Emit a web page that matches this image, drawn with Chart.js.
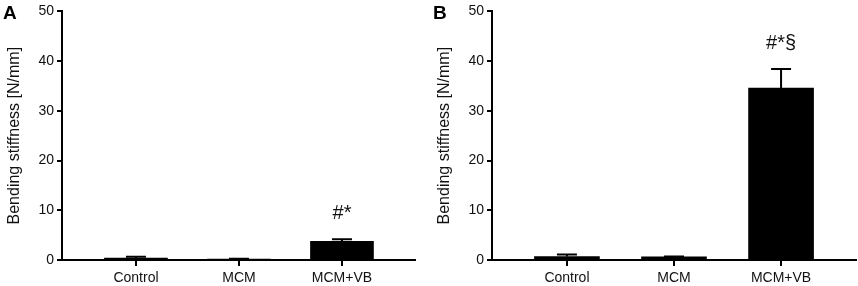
<!DOCTYPE html>
<html>
<head>
<meta charset="utf-8">
<script src="https://cdn.jsdelivr.net/npm/chart.js@4/dist/chart.umd.min.js"></script>
<style>
  html, body { margin: 0; padding: 0; background: #fff; }
  #wrap { position: relative; width: 858px; height: 286px; overflow: hidden; }
  .panel { position: absolute; top: 0; height: 286px; }
</style>
</head>
<body>
<div id="wrap">
  <div class="panel" style="left:0;width:430px"><canvas id="cA" width="430" height="286"></canvas></div>
  <div class="panel" style="left:430px;width:428px"><canvas id="cB" width="428" height="286"></canvas></div>
</div>
<script>
// ---- data ----
const categories = ['Control', 'MCM', 'MCM+VB'];
const yTicks = [0, 10, 20, 30, 40, 50];
const yTitle = 'Bending stiffness [N/mm]';

const meanA = [0.4, 0.05, 3.75];
const sdA   = [0.25, 0.2, 0.4];
const marksA = ['', '', '#*'];

const meanB = [0.7, 0.65, 34.6];
const sdB   = [0.4, 0.05, 3.8];
const marksB = ['', '', '#*§'];

const FONT = "'Liberation Sans', Arial, Helvetica, sans-serif";
const TEXT = '#111';

function makeChart(id, letter, means, sds, marks, barPx, xMin, xMax, padRight) {
  const errPlugin = {
    id: 'errbars' + id,
    afterDatasetsDraw(chart) {
      const ctx = chart.ctx;
      const xs = chart.scales.x, ys = chart.scales.y;
      ctx.save();
      ctx.strokeStyle = '#000';
      ctx.lineWidth = 2;
      means.forEach((m, i) => {
        const x = xs.getPixelForValue(i);
        const yb = ys.getPixelForValue(m);
        const yt = ys.getPixelForValue(m + sds[i]);
        ctx.beginPath();
        ctx.moveTo(x, yb); ctx.lineTo(x, yt);
        ctx.moveTo(x - 10, yt); ctx.lineTo(x + 10, yt);
        ctx.stroke();
        if (marks[i]) {
          ctx.fillStyle = TEXT;
          ctx.font = '20px ' + FONT;
          ctx.textAlign = 'center';
          ctx.textBaseline = 'middle';
          ctx.fillText(marks[i], x, yt - 26);
        }
      });
      ctx.fillStyle = '#000';
      ctx.font = 'bold 19px ' + FONT;
      ctx.textAlign = 'left';
      ctx.textBaseline = 'alphabetic';
      ctx.fillText(letter, 3, 19);
      ctx.restore();
    }
  };

  return new Chart(document.getElementById(id), {
    type: 'bar',
    data: {
      datasets: [{
        data: means.map((m, i) => ({ x: i, y: m })),
        backgroundColor: '#000',
        borderWidth: 0,
        barThickness: barPx
      }]
    },
    options: {
      responsive: false,
      animation: false,
      layout: { padding: { left: 0, right: padRight, top: 7, bottom: 0 } },
      plugins: { legend: { display: false }, tooltip: { enabled: false } },
      scales: {
        x: {
          type: 'linear',
          offset: false,
          min: xMin, max: xMax,
          afterBuildTicks: s => { s.ticks = categories.map((c, i) => ({ value: i })); },
          afterFit: s => { s.height = 26; },
          ticks: {
            callback: v => categories[v] ?? '',
            font: { family: FONT, size: 14 },
            color: TEXT, padding: 4, autoSkip: false, maxRotation: 0
          },
          grid: { display: true, offset: false, drawOnChartArea: false, drawTicks: true, tickLength: 6, color: '#000', lineWidth: 2 },
          border: { display: true, color: '#000', width: 2 }
        },
        y: {
          min: 0, max: 50,
          afterBuildTicks: s => { s.ticks = yTicks.map(v => ({ value: v })); },
          afterFit: s => { s.width = 62; },
          ticks: { font: { family: FONT, size: 14 }, color: TEXT, padding: 3 },
          grid: { display: true, drawOnChartArea: false, drawTicks: true, tickLength: 5, color: '#000', lineWidth: 2 },
          border: { display: true, color: '#000', width: 2 },
          title: { display: true, text: yTitle, font: { family: FONT, size: 16 }, color: TEXT, padding: { top: 5, bottom: 0 } }
        }
      }
    },
    plugins: [errPlugin]
  });
}

makeChart('cA', 'A', meanA, sdA, marksA, 63, -0.718, 2.709, 15);
makeChart('cB', 'B', meanB, sdB, marksB, 65, -0.70, 2.70, 2);
</script>
</body>
</html>
